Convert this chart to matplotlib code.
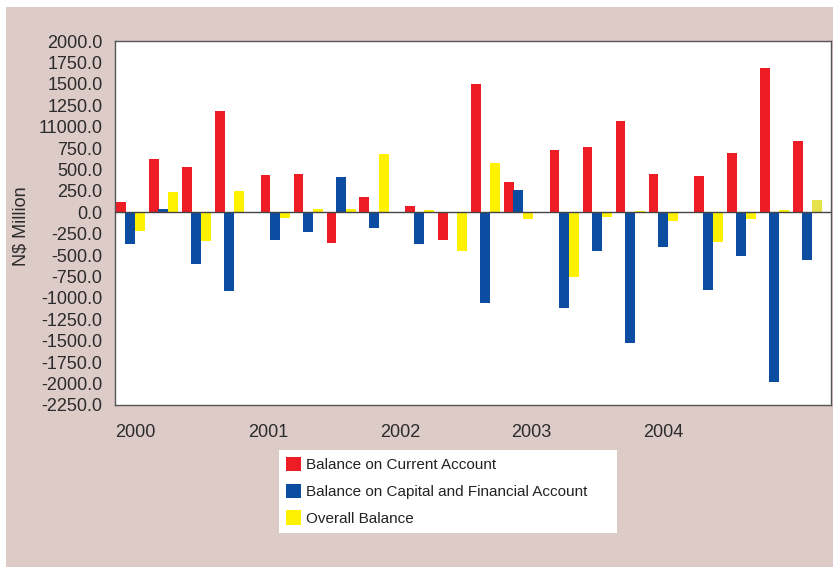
import matplotlib.pyplot as plt
from matplotlib.patches import Rectangle

plt.rcParams['font.family'] = ['Liberation Sans', 'DejaVu Sans']

years = ['2000', '2001', '2002', '2003', '2004']
quarters_per_year = 4

current_account = [125, 619, 525, 1179,
                   436, 444, -362, 179,
                   70, -323, 1498, 354,
                   732, 759, 1070, 451,
                   420, 693, 1681, 829]
capital_financial = [-374, 40, -603, -915,
                     -323, -234, 416, -179,
                     -374, 0, -1063, 265,
                     -1121, -448, -1530, -401,
                     -907, -506, -1985, -560]
overall_balance = [-218, 241, -331, 245,
                   -70, 40, 40, 677,
                   30, -448, 580, -80,
                   -751, -60, 20, -100,
                   -346, -75, 30, 148]

series_names = ['Balance on Current Account',
                'Balance on Capital and Financial Account',
                'Overall Balance']

y_ticks = list(range(-2250, 2001, 250))
# the source chart prints 1000 as "11000.0"
y_tick_labels = ['11000.0' if t == 1000 else f'{t:.1f}' for t in y_ticks]

red = '#ee1c25'
blue = '#0d4da1'
yellow = '#fff200'
bg = '#ddcbc8'

fig = plt.figure(figsize=(8.33, 5.67), dpi=100, facecolor='white')
fig.add_artist(Rectangle((6 / 833, 0), 1, 1 - 7 / 567, transform=fig.transFigure,
                         facecolor=bg, edgecolor='none', zorder=-10))
ax = fig.add_axes([115 / 833, 1 - 405 / 567, 716 / 833, 364 / 567])
ax.set_facecolor('white')

# group position: quarter index plus a small extra gap between years
year_gap = 0.38
n = len(current_account)
lefts = [i + year_gap * (i // quarters_per_year) for i in range(n)]
width = 0.3

yellow_colors = [yellow] * (n - 1) + ['#e6e24c']

ax.bar(lefts, current_account, width, align='edge',
       color=red, label=series_names[0], zorder=2)
ax.bar([x + 0.28 for x in lefts], capital_financial, width, align='edge',
       color=blue, label=series_names[1], zorder=3)
ax.bar([x + 0.58 for x in lefts], overall_balance, width, align='edge',
       color=yellow_colors, label=series_names[2], zorder=2)

ax.axhline(0, color='#444444', lw=1.0, zorder=4)

ax.set_ylim(-2250, 2000)
ax.set_xlim(-0.03, 21.67)
ax.set_yticks(y_ticks)
ax.set_yticklabels(y_tick_labels)
ax.set_xticks([k * quarters_per_year + 0.6 for k in range(len(years))])
ax.set_xticklabels(years)
ax.tick_params(axis='both', length=0, labelsize=13, colors='#2b2b2b')
ax.tick_params(axis='y', pad=9)
ax.tick_params(axis='x', pad=14)

for s in ax.spines.values():
    s.set_color('#555555')
    s.set_linewidth(1.0)

ax.set_ylabel('N\\$ Million', fontsize=13, color='#2b2b2b')
ax.yaxis.set_label_coords(-0.12, 0.49)

leg = fig.legend(loc='upper left', bbox_to_anchor=(279 / 833, 1 - 537 / 567, 338 / 833, 87 / 567),
                 mode='expand', ncol=1, fontsize=11, frameon=True, fancybox=False,
                 framealpha=1, facecolor='white', edgecolor='none',
                 handlelength=1.0, handleheight=1.05, labelspacing=0.75,
                 borderpad=0.45, handletextpad=0.35, borderaxespad=0)
for t in leg.get_texts():
    t.set_color('#222222')

fig.savefig('out.png', dpi=100)
